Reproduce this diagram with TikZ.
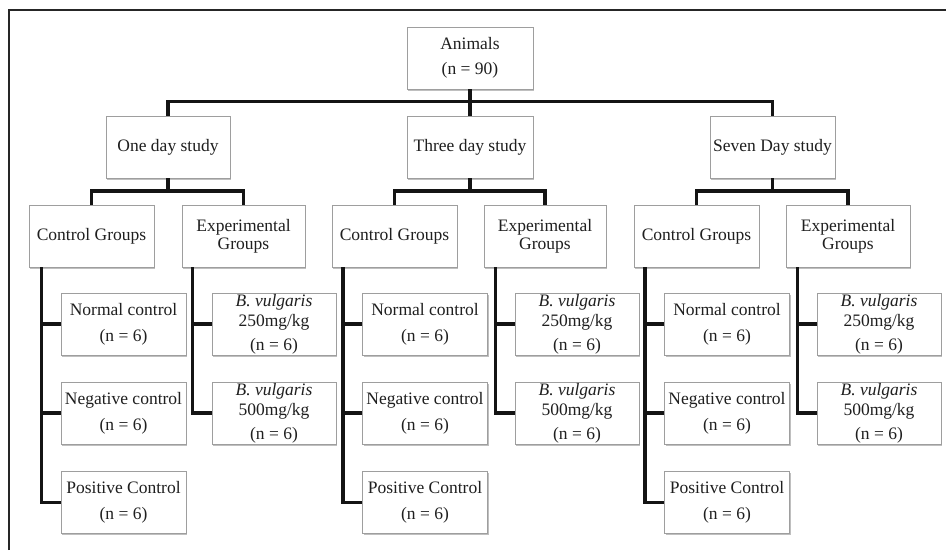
\documentclass[tikz,border=0pt]{standalone}
\usepackage{fontspec}
\setmainfont{Liberation Serif}
\usetikzlibrary{shadows}
\begin{document}
\begin{tikzpicture}[x=1pt,y=-1pt,
  box/.style={draw=black!38, line width=0.7pt, fill=white, inner sep=0pt,
    minimum width=124pt, minimum height=62pt, align=center,
    text=black!88, font=\fontsize{17.5}{19}\selectfont,
    drop shadow={shadow xshift=1.3pt, shadow yshift=-1.6pt, fill=black!45, opacity=0.55}},
  conn/.style={line width=3.6pt, black!92},
  frame/.style={line width=1.1pt, black!85}]
\useasboundingbox (0,0) rectangle (946,550);
\fill[white] (0,0) rectangle (946,550);
\draw[frame] (9,550) -- (9,10) -- (946,10);

% top levels
\node[box, minimum width=126pt] (animals) at (470,58) {Animals\\[6pt](n = 90)};
\node[box] (one) at (168,147) {One day study};
\node[box, minimum width=126pt] (three) at (470,147) {Three day study};
\node[box, minimum width=125pt] (seven) at (772.5,147) {Seven Day study};

% second level
\node[box, minimum width=125pt] (onec) at (91.5,236) {Control Groups};
\node[box, minimum width=123pt] (onee) at (243.5,236) {Experimental\\[-1pt]Groups};
\node[box, minimum width=125pt] (threec) at (394.5,236) {Control Groups};
\node[box, minimum width=122pt] (threee) at (545,236) {Experimental\\[-1pt]Groups};
\node[box, minimum width=125pt] (sevenc) at (696.5,236) {Control Groups};
\node[box, minimum width=124pt] (sevene) at (848,236) {Experimental\\[-1pt]Groups};

% leaves: control
\foreach \p/\x in {one/123.5, three/425, seven/727}{
  \node[box, minimum width=125pt] (\p l1) at (\x,324) {Normal control\\[7pt](n = 6)};
  \node[box, minimum width=125pt] (\p l2) at (\x,413) {Negative control\\[7pt](n = 6)};
  \node[box, minimum width=125pt] (\p l3) at (\x,502.5) {Positive Control\\[7pt](n = 6)};
}
% leaves: experimental
\foreach \p/\x in {one/274, three/577, seven/879}{
  \node[box] (\p x1) at (\x,324) {\textit{B. vulgaris}\\[1pt]250mg/kg\\[5pt](n = 6)};
  \node[box] (\p x2) at (\x,413) {\textit{B. vulgaris}\\[1pt]500mg/kg\\[5pt](n = 6)};
}

% connectors: top
\draw[conn] (animals.south) -- (three.north);
\draw[conn] (one.north) -- ++(0,-14) -| (seven.north);

% connectors: study -> groups
\foreach \p in {one,three,seven}{
  \draw[conn] (\p.south) -- ++(0,14.5);
  \draw[conn] (\p c.north) -- ++(0,-13.5) -| (\p e.north);
}

% connectors: groups -> leaves
\foreach \p in {one,three,seven}{
  \coordinate (\p cv) at ([xshift=-19pt]\p l1.west);
  \draw[conn] (\p cv |- \p c.south) |- (\p l3.west);
  \draw[conn] (\p l1.west) -- (\p cv);
  \draw[conn] (\p l2.west) -- (\p cv |- \p l2.west);
  \coordinate (\p ev) at ([xshift=-19pt]\p x1.west);
  \draw[conn] (\p ev |- \p e.south) |- (\p x2.west);
  \draw[conn] (\p x1.west) -- (\p ev);
}
\end{tikzpicture}
\end{document}
